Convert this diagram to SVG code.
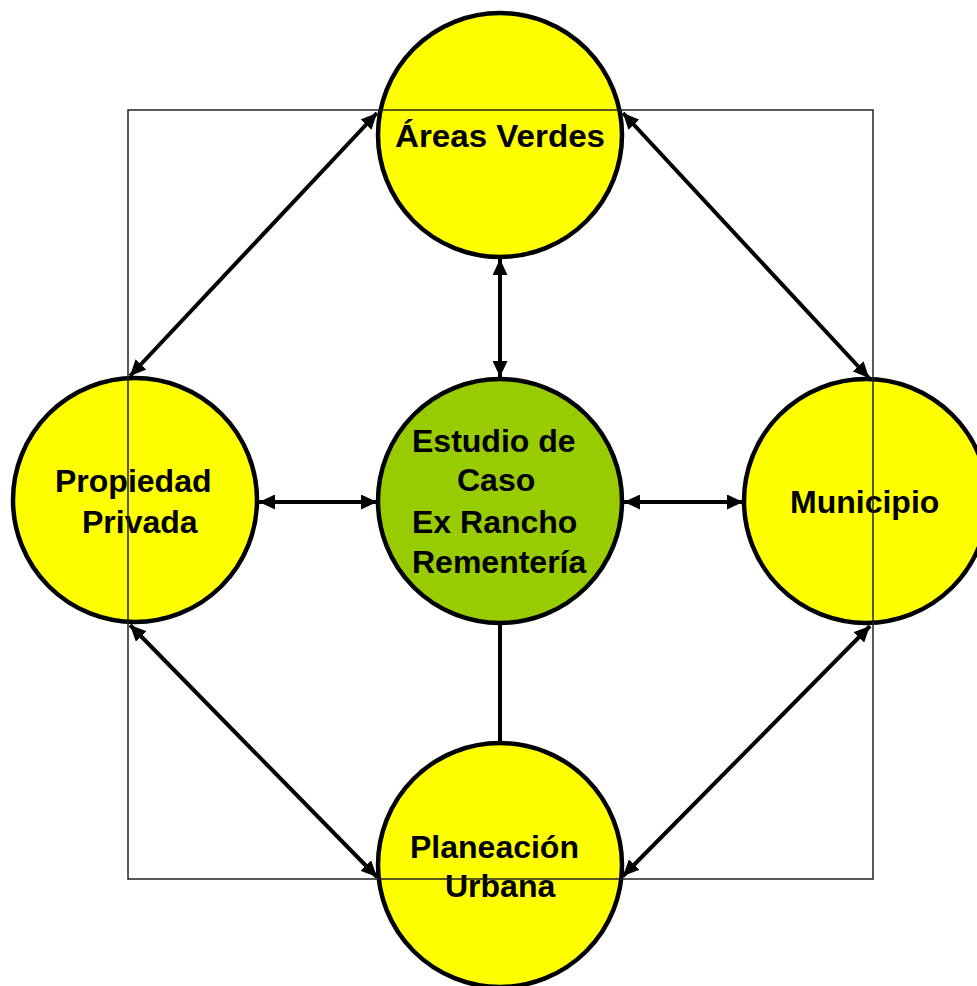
<svg xmlns="http://www.w3.org/2000/svg" width="977" height="986" viewBox="0 0 977 986">
<style>
.node{stroke:#000;stroke-width:4.5}
.yel{fill:#FFFF00}
.grn{fill:#99CC00}
.lbl{font-family:"Liberation Sans",Arial,sans-serif;font-weight:bold;font-size:32px;fill:#000}
.con{stroke:#000;stroke-width:4;fill:none}
.frame{fill:none;stroke:#222;stroke-width:1.5}
</style>
<defs>
<marker id="ah" viewBox="0 0 16 15" refX="16" refY="7.5" markerWidth="16" markerHeight="15" markerUnits="userSpaceOnUse" orient="auto-start-reverse">
<path d="M0,0 L16,7.5 L0,15 z" fill="#000"/>
</marker>
</defs>
<rect width="977" height="986" fill="#fff"/>
<g id="nodes">
<g id="areas-verdes">
<circle class="node yel" cx="500" cy="135" r="122"/>
<text class="lbl" x="395" y="147" textLength="210" lengthAdjust="spacingAndGlyphs">Áreas Verdes</text>
</g>
<g id="propiedad-privada">
<circle class="node yel" cx="135" cy="500" r="122"/>
<text class="lbl" x="55" y="492">Propiedad</text>
<text class="lbl" x="82" y="533">Privada</text>
</g>
<g id="estudio-de-caso">
<circle class="node grn" cx="500" cy="501" r="122"/>
<text class="lbl" x="412" y="452">Estudio de</text>
<text class="lbl" x="457" y="491">Caso</text>
<text class="lbl" x="412" y="533">Ex Rancho</text>
<text class="lbl" x="412" y="573">Rementería</text>
</g>
<g id="municipio">
<circle class="node yel" cx="866" cy="501" r="122"/>
<text class="lbl" x="790" y="513">Municipio</text>
</g>
<g id="planeacion-urbana">
<circle class="node yel" cx="500" cy="865" r="122"/>
<text class="lbl" x="410" y="858">Planeación</text>
<text class="lbl" x="445" y="897">Urbana</text>
</g>
</g>
<g id="connectors">
<line class="con" x1="377" y1="113" x2="130" y2="376" marker-start="url(#ah)" marker-end="url(#ah)"/>
<line class="con" x1="623" y1="113" x2="869" y2="378" marker-start="url(#ah)" marker-end="url(#ah)"/>
<line class="con" x1="130" y1="625" x2="377" y2="877" marker-start="url(#ah)" marker-end="url(#ah)"/>
<line class="con" x1="870" y1="626" x2="623" y2="876" marker-start="url(#ah)" marker-end="url(#ah)"/>
<line class="con" x1="500" y1="259" x2="500" y2="377" marker-start="url(#ah)" marker-end="url(#ah)"/>
<line class="con" x1="259" y1="502" x2="377" y2="502" marker-start="url(#ah)" marker-end="url(#ah)"/>
<line class="con" x1="624" y1="502" x2="743" y2="502" marker-start="url(#ah)" marker-end="url(#ah)"/>
<line class="con" x1="500" y1="624" x2="500" y2="743"/>
</g>
<rect id="frame" class="frame" x="128" y="110" width="745" height="769"/>
</svg>
